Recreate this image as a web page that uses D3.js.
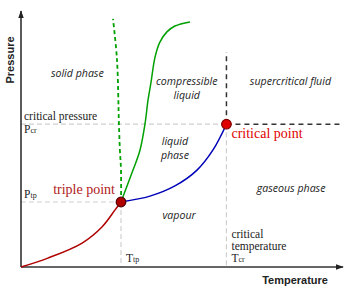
<!DOCTYPE html>
<html><head><meta charset="utf-8">
<script src="https://cdn.jsdelivr.net/npm/d3@7"></script>
<style>body{margin:0;background:#fff}svg{display:block}</style>
</head><body>
<script>
// Normalised temperature (0-100) and pressure (0-100) units
const triplePoint = {t: 31.25, p: 25.5};
const criticalPoint = {t: 64.2, p: 56.0};
const sublimationCurve = [[0,0],[8.4,3.5],[19.1,9.4],[25.3,15.7],[29.4,22.4],[31.25,25.5]];
const vaporisationCurve = [[31.25,25.5],[40.3,27.8],[48.1,31.8],[55,38],[60,45.9],[64.2,56.0]];
const meltingCurve = [[31.25,25.5],[35,38],[37.2,45.9],[38.75,56.1],[39.7,65.5],[40.6,72.2],[41.9,82.4],[43.4,88.2],[45.6,92.2],[48.1,94.5],[52.8,96.1]];
const meltingCurveWater = [[31.25,25.5],[31.25,38],[30.9,45.9],[30.6,56.1],[30,81.2],[28.75,97.3]];
const supercriticalTop = 84.3;
const regionLabels = [
  {lines:["solid phase"], t:17.6, p:74.5},
  {lines:["compressible","liquid"], t:51.8, p:71.5},
  {lines:["supercritical fluid"], t:84.2, p:71.3},
  {lines:["liquid","phase"], t:48.1, p:47.7},
  {lines:["vapour"], t:49.4, p:18.8},
  {lines:["gaseous phase"], t:84.4, p:29.4}
];

const W = 350, H = 293;
const x = d3.scaleLinear().domain([0,100]).range([21,341]);
const y = d3.scaleLinear().domain([0,100]).range([267,12]);

const svg = d3.select("body").append("svg").attr("width",W).attr("height",H);
const defs = svg.append("defs");
defs.append("marker").attr("id","arr").attr("viewBox","0 0 10 10").attr("refX",9).attr("refY",5)
  .attr("markerWidth",8).attr("markerHeight",8).attr("markerUnits","userSpaceOnUse").attr("orient","auto")
  .append("path").attr("d","M0,1.5L10,5L0,8.5Z").attr("fill","#222");

const line = d3.line().x(d=>x(d[0])).y(d=>y(d[1])).curve(d3.curveCatmullRom);

const grey = {stroke:"#cfcfcf", "stroke-width":1.2, "stroke-dasharray":"5,3"};
function seg(x1,y1,x2,y2,st){const l=svg.append("line").attr("x1",x1).attr("y1",y1).attr("x2",x2).attr("y2",y2);for(const k in st)l.attr(k,st[k]);return l;}
seg(x(0),y(triplePoint.p),x(triplePoint.t),y(triplePoint.p),grey);
seg(x(triplePoint.t),y(triplePoint.p),x(triplePoint.t),y(0),grey);
seg(x(0),y(criticalPoint.p),x(criticalPoint.t),y(criticalPoint.p),grey);
seg(x(criticalPoint.t),y(criticalPoint.p),x(criticalPoint.t),y(0),grey);
const blk = {stroke:"#333", "stroke-width":1.5, "stroke-dasharray":"5,4"};
seg(x(criticalPoint.t),y(criticalPoint.p),x(100.6),y(criticalPoint.p),blk);
seg(x(criticalPoint.t),y(criticalPoint.p),x(criticalPoint.t),y(supercriticalTop),blk);

svg.append("line").attr("x1",x(0)).attr("y1",y(0)).attr("x2",x(0)).attr("y2",y(100)-1)
  .attr("stroke","#333").attr("stroke-width",1.6).attr("marker-end","url(#arr)");
svg.append("line").attr("x1",x(0)).attr("y1",y(0)).attr("x2",x(100)+2).attr("y2",y(0))
  .attr("stroke","#333").attr("stroke-width",1.6).attr("marker-end","url(#arr)");

svg.append("path").attr("d",line(sublimationCurve)).attr("fill","none").attr("stroke","#b00000").attr("stroke-width",1.5);
svg.append("path").attr("d",line(vaporisationCurve)).attr("fill","none").attr("stroke","#0000b8").attr("stroke-width",1.5);
svg.append("path").attr("d",line(meltingCurve)).attr("fill","none").attr("stroke","#00a000").attr("stroke-width",1.5);
svg.append("path").attr("d",line(meltingCurveWater)).attr("fill","none").attr("stroke","#00a000").attr("stroke-width",1.8).attr("stroke-dasharray","4,3");

svg.append("circle").attr("cx",x(triplePoint.t)).attr("cy",y(triplePoint.p)).attr("r",4.8)
  .attr("fill","#b00000").attr("stroke","#500000").attr("stroke-width",1.2);
svg.append("circle").attr("cx",x(criticalPoint.t)).attr("cy",y(criticalPoint.p)).attr("r",4.8)
  .attr("fill","#e00000").attr("stroke","#800000").attr("stroke-width",1.2);

regionLabels.forEach(r=>{
  r.lines.forEach((s,i)=>svg.append("text").attr("x",x(r.t)).attr("y",y(r.p)+i*14)
    .attr("text-anchor","middle").attr("font-family","'Open Sans', sans-serif")
    .attr("font-style","italic").attr("font-size",10.6).attr("fill","#222").text(s));
});

const serif = "'Liberation Serif', 'DejaVu Serif', serif";
function stext(xx,yy,str,sub,opts={}){
  const t = svg.append("text").attr("x",xx).attr("y",yy).attr("font-family",serif)
    .attr("font-size",opts.size||11.5).attr("fill",opts.fill||"#222");
  if(opts.anchor) t.attr("text-anchor",opts.anchor);
  t.append("tspan").text(str);
  if(sub) t.append("tspan").attr("font-size",8).text(sub);
  return t;
}
stext(24,120,"critical pressure");
stext(24,133,"P","cr");
stext(24,198,"P","tp");
stext(x(triplePoint.t)+5,262,"T","tp");
stext(x(criticalPoint.t)+5,238,"critical");
stext(x(criticalPoint.t)+5,250,"temperature");
stext(x(criticalPoint.t)+5,262,"T","cr");
stext(115,194,"triple point",null,{size:14,fill:"#b01818",anchor:"end"});
stext(x(criticalPoint.t)+5,138,"critical point",null,{size:14,fill:"#e00000"});

svg.append("text").attr("x",328).attr("y",284).attr("text-anchor","end")
  .attr("font-family","'Liberation Sans', Arial, sans-serif").attr("font-weight","bold").attr("font-size",11).attr("fill","#222").text("Temperature");
svg.append("text").attr("transform","translate(14,60) rotate(-90)").attr("text-anchor","middle")
  .attr("font-family","'Liberation Sans', Arial, sans-serif").attr("font-weight","bold").attr("font-size",11).attr("fill","#222").text("Pressure");
</script>
</body></html>
